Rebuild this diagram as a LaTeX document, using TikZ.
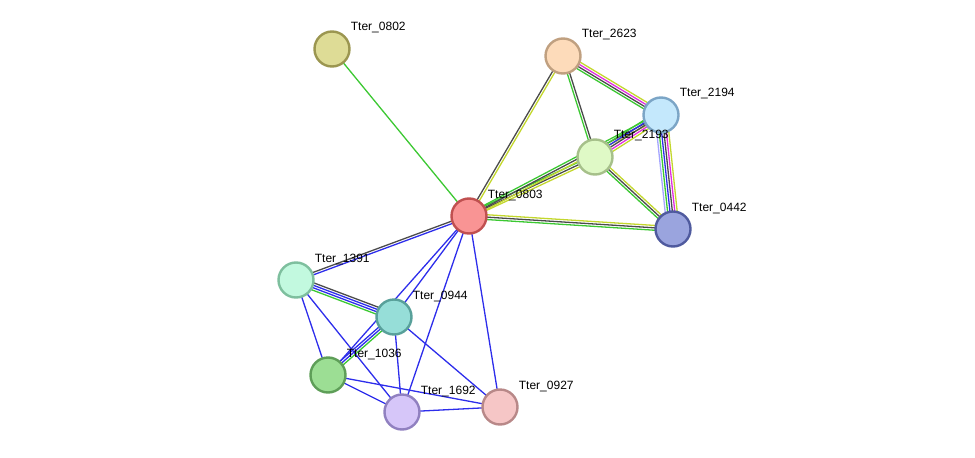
\documentclass[tikz,border=0pt]{standalone}
\usepackage{fontspec}
\setmainfont{Liberation Sans}
\usepackage{tikz}
\usetikzlibrary{calc,backgrounds}

\definecolor{egreen}{RGB}{60,200,50}
\definecolor{egray}{RGB}{75,75,75}
\definecolor{eyellow}{RGB}{195,215,45}
\definecolor{emagenta}{RGB}{225,45,225}
\definecolor{eblue}{RGB}{45,45,235}
\definecolor{elblue}{RGB}{165,165,255}
% node fill / border colours
\definecolor{f0802}{RGB}{222,220,150}\definecolor{b0802}{RGB}{155,150,80}
\definecolor{f2623}{RGB}{253,219,186}\definecolor{b2623}{RGB}{192,160,128}
\definecolor{f2194}{RGB}{196,232,252}\definecolor{b2194}{RGB}{123,165,198}
\definecolor{f2193}{RGB}{223,249,198}\definecolor{b2193}{RGB}{166,192,138}
\definecolor{f0803}{RGB}{249,148,148}\definecolor{b0803}{RGB}{192,80,80}
\definecolor{f0442}{RGB}{154,164,222}\definecolor{b0442}{RGB}{79,90,158}
\definecolor{f1391}{RGB}{194,249,223}\definecolor{b1391}{RGB}{126,191,158}
\definecolor{f0944}{RGB}{150,222,216}\definecolor{b0944}{RGB}{88,160,154}
\definecolor{f1036}{RGB}{156,222,148}\definecolor{b1036}{RGB}{94,158,88}
\definecolor{f1692}{RGB}{214,198,249}\definecolor{b1692}{RGB}{144,128,192}
\definecolor{f0927}{RGB}{246,198,198}\definecolor{b0927}{RGB}{184,136,136}

% bundle of parallel lines between two nodes, one per colour
\newcommand{\bundle}[3]{%
  \foreach \c [count=\i] in {#3} {\xdef\nlines{\i}}%
  \foreach \c [count=\i] in {#3} {
    \pgfmathsetlengthmacro\off{(\i-(\nlines+1)/2)*2.4pt}
    \draw[edge,\c] ($(#1.center)!\off!90:(#2.center)$) -- ($(#2.center)!\off!-90:(#1.center)$);
  }}

\begin{document}
\begin{tikzpicture}[x=1pt,y=-1pt,
  prot/.style={circle,draw=b#1,fill=f#1,line width=2.4pt,minimum size=35pt,inner sep=0pt,
    label={[lbl]0:Tter\_#1}},
  lbl/.style={yshift=21pt,font=\fontsize{12}{14}\selectfont,inner sep=0pt},
  edge/.style={line width=1.3pt}]
\useasboundingbox (0,0) rectangle (975,458);

\node[prot=0802] (t0802) at (332,49) {};
\node[prot=2623] (t2623) at (563,56) {};
\node[prot=2194] (t2194) at (661,115) {};
\node[prot=2193] (t2193) at (595,157) {};
\node[prot=0803] (t0803) at (469,216) {};
\node[prot=0442] (t0442) at (673,229) {};
\node[prot=1391] (t1391) at (296,280) {};
\node[prot=0944] (t0944) at (394,317) {};
\node[prot=1036] (t1036) at (328,375) {};
\node[prot=1692] (t1692) at (402,412) {};
\node[prot=0927] (t0927) at (500,407) {};

\begin{pgfonlayer}{background}
\bundle{t0802}{t0803}{egreen}
\bundle{t0803}{t2623}{eyellow,egray}
\bundle{t0803}{t2193}{eyellow,egray,egreen}
\bundle{t0803}{t2194}{eyellow,egray,egreen}
\bundle{t0803}{t0442}{egreen,egray,eyellow}
\bundle{t2623}{t2194}{egreen,egray,emagenta,eyellow}
\bundle{t2623}{t2193}{egreen,egray}
\bundle{t2193}{t0442}{egreen,egray,eyellow}
\bundle{t2194}{t0442}{elblue,egreen,eblue,egray,emagenta,eyellow}
\bundle{t2193}{t2194}{eyellow,emagenta,egray,eblue,egreen}
\bundle{t0803}{t1391}{egray,eblue}
\bundle{t1391}{t0944}{egreen,eblue,eblue,egray}
\bundle{t0944}{t1036}{eblue,eblue,egreen}
% single blue links
\foreach \a/\b in {t0803/t0944,t0803/t1036,t0803/t1692,t0803/t0927,
  t1391/t1036,t1391/t1692,t0944/t1692,t0944/t0927,
  t1036/t1692,t1036/t0927,t1692/t0927}
  \draw[edge,eblue] (\a.center) -- (\b.center);
\end{pgfonlayer}
\end{tikzpicture}
\end{document}
